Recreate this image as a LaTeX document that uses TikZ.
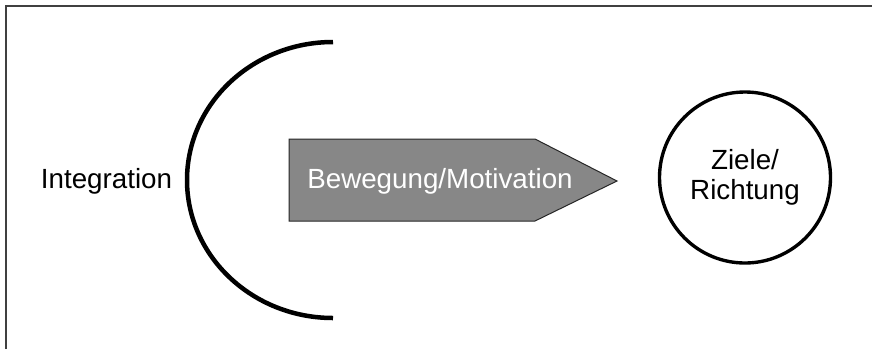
\documentclass[tikz,border=0pt]{standalone}
\usepackage{fontspec}
\setmainfont{Liberation Sans}
\begin{document}
\begin{tikzpicture}[x=0.4pt, y=0.4pt]
\tikzset{lbl/.style={font=\fontsize{11.1}{12.2}\selectfont, inner sep=0pt},
    goal/.style={circle, draw=black, line width=1.35pt, minimum size=68.4pt,
    align=center, inner sep=0pt}}
\useasboundingbox (0,0) rectangle (872,349);

% frame (only top and left edge visible)
\draw[line width=0.8pt, black!75] (6,0) -- (6,343) -- (872,343);

% open bracket
\coordinate (arctop) at (333,307);
\draw[line width=1.8pt] (arctop) arc[start angle=90, end angle=270, x radius=146, y radius=138];
\node[lbl, anchor=base] (integ) at (106.5,161) {Integration};

% movement arrow
\fill[black!47, draw=black!85, line width=0.4pt]
    (289,210) -- (535,210) -- (617,168) -- (535,128) -- (289,128) -- cycle;
\node[lbl, anchor=base, text=white] (motiv) at (440,161) {Bewegung/Motivation};

% goal circle
\node[lbl, goal] (ziele) at (745,171.5) {Ziele/\\Richtung};

\end{tikzpicture}
\end{document}
